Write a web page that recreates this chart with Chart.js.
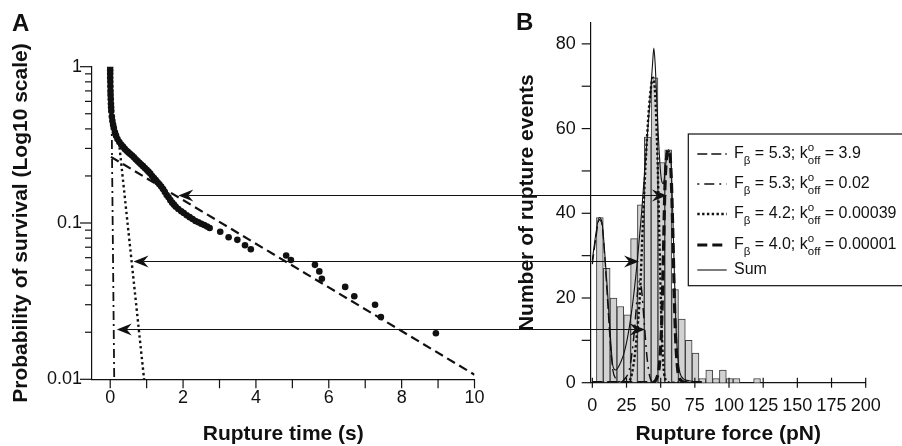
<!DOCTYPE html>
<html>
<head>
<meta charset="utf-8">
<title>Rupture time / rupture force</title>
<script src="https://cdn.jsdelivr.net/npm/chart.js@4.4.1/dist/chart.umd.min.js"></script>
<style>
  html, body { margin: 0; padding: 0; background: #fff; }
  #wrap { position: relative; width: 902px; height: 446px; overflow: hidden; }
  #wrap canvas { position: absolute; top: 0; }
  #chartA { left: 0; }
  #chartB { left: 460px; }
  #arrows { left: 0; pointer-events: none; }
  .panel-label { position: absolute; font: bold 24px 'Liberation Sans', Arial, sans-serif; line-height: 24px; color: #111; }
</style>
</head>
<body>
<div id="wrap">
  <canvas id="chartA" width="520" height="446"></canvas>
  <canvas id="chartB" width="442" height="446"></canvas>
  <canvas id="arrows" width="902" height="446"></canvas>
  <div class="panel-label" style="left:12px; top:11px;">A</div>
  <div class="panel-label" style="left:516px; top:10px;">B</div>
</div>
<script>
const FONT = "'Liberation Sans', Arial, Helvetica, sans-serif";
const INK = '#111';

// ---------------- Panel A: survival vs rupture time ----------------
const surviveTime = [0, 0, 0, 0, 0.003, 0.005, 0.008, 0.01, 0.015, 0.02, 0.025, 0.03, 0.045, 0.06, 0.08, 0.1,
  0.13, 0.16, 0.2, 0.25, 0.3, 0.35, 0.4, 0.45, 0.5, 0.55, 0.6, 0.65, 0.7, 0.75, 0.8, 0.85, 0.9, 0.95, 1.0,
  1.05, 1.1, 1.15, 1.2, 1.25, 1.3, 1.35, 1.4, 1.45, 1.5, 1.55, 1.6, 1.65, 1.7, 1.75, 1.8, 1.87, 1.95, 2.02,
  2.1, 2.18, 2.26, 2.34, 2.42, 2.5, 2.58, 2.66, 2.73,
  3.02, 3.25, 3.49, 3.7, 3.86, 4.83, 4.96, 5.62, 5.74, 5.81, 6.45, 6.7, 7.27, 7.43, 8.94];
const surviveProb = [1, 0.95, 0.9, 0.85, 0.8, 0.75, 0.7, 0.66, 0.62, 0.58, 0.55, 0.52, 0.48, 0.45, 0.425, 0.405,
  0.38, 0.362, 0.345, 0.33, 0.318, 0.308, 0.298, 0.29, 0.283, 0.276, 0.27, 0.263, 0.256, 0.249, 0.243, 0.237,
  0.231, 0.225, 0.219, 0.213, 0.207, 0.2, 0.194, 0.188, 0.182, 0.177, 0.171, 0.165, 0.158, 0.151, 0.146, 0.14,
  0.135, 0.131, 0.127, 0.123, 0.119, 0.116, 0.112, 0.109, 0.106, 0.103, 0.101, 0.099, 0.097, 0.095, 0.093,
  0.088, 0.081, 0.078, 0.072, 0.068, 0.062, 0.058, 0.054, 0.049, 0.044, 0.039, 0.034, 0.030, 0.025, 0.0197];

const slowFitTime = [0.02, 10];
const slowFitProb = [0.265, 0.0107];
const midFitTime = [0.24, 0.93];
const midFitProb = [0.33, 0.01];
const fastFitTime = [0.04, 0.11];
const fastFitProb = [0.45, 0.01];

const timeTicks = [0, 1, 2, 3, 4, 5, 6, 7, 8, 9, 10];
const timeLabels = [0, 2, 4, 6, 8, 10];
const probTicks = [0.01, 0.02, 0.03, 0.04, 0.05, 0.06, 0.07, 0.08, 0.09,
  0.1, 0.2, 0.3, 0.4, 0.5, 0.6, 0.7, 0.8, 0.9, 1];
const probLabels = [0.01, 0.1, 1];

// ---------------- Panel B: rupture force histogram + fits ----------------
const forceBins = [5.5, 10.5, 15.5, 20.5, 25.5, 30.5, 35.5, 40.5, 45.5, 50.5, 55.5, 60.5, 65.5,
  70.5, 75.5, 80.5, 85.5, 90.5, 95.5, 100.5, 105.5, 120.5];
const forceCounts = [39, 27, 20, 18, 16, 34, 42, 58, 72, 52, 55, 22, 15, 10, 7, 1, 3, 1, 3, 1, 1, 1];

const fit1Force = [0, 2.5, 5, 7, 9, 11, 13, 15, 17, 20, 25, 80];
const fit1Count = [28, 34, 38.5, 37.5, 30, 20, 10, 3, 1, 0.2, 0, 0];
const fit2Force = [0, 20, 24, 27, 29, 31, 33, 34.5, 36, 38, 40, 42, 45, 80];
const fit2Count = [0, 0, 1, 3, 7, 13, 21, 24, 22, 14, 6, 1.5, 0, 0];
const fit3Force = [0, 25, 28, 30, 32.5, 35, 37, 39, 41, 43, 44.5, 46, 47.5, 49, 50.5, 52, 54, 57, 80];
const fit3Count = [0, 0, 1, 4, 11, 22, 38, 52, 63, 70, 72, 68, 55, 35, 15, 4, 0.5, 0, 0];
const fit4Force = [0, 44, 47, 49, 50.5, 52, 53, 54, 55.5, 57, 58, 59, 60, 61, 62.5, 65, 70, 80];
const fit4Count = [0, 0, 1, 4, 12, 30, 45, 52, 55, 53, 46, 34, 20, 10, 3, 0.5, 0, 0];
const sumForce = [0, 2.5, 5, 7, 9, 11, 13, 15, 17, 21, 24, 27, 30, 33, 36, 39, 42, 44, 45, 46, 47.5, 49,
  50.5, 52, 53.5, 55.5, 57, 58, 59, 60, 61, 62.5, 65, 70, 80];
const sumCount = [29, 35, 39, 38, 31, 22, 12, 4, 3, 5, 8, 13, 20, 29, 40, 53, 66, 75, 79, 75, 64, 54,
  48, 47, 51, 55, 54, 49, 38, 26, 15, 6, 1.5, 0.5, 0];

const forceTicks = [0, 25, 50, 75, 100, 125, 150, 175, 200];
const countTicks = [0, 10, 20, 30, 40, 50, 60, 70, 80];
const countLabels = [0, 20, 40, 60, 80];
const legendF = ['5.3', '5.3', '4.2', '4.0'];
const legendK = ['3.9', '0.02', '0.00039', '0.00001'];

// arrows linking a survival level (panel A) to a force (panel B)
const arrowProb = [0.15, 0.057, 0.021];
const arrowTime = [1.87, 0.64, 0.18];
const arrowForce = [54.6, 34.2, 38.5];

const pts = (xs, ys) => xs.map((x, i) => ({ x, y: ys[i] }));

const STYLE = {
  fit1: { borderWidth: 1.3, borderDash: [10, 4] },
  fit2: { borderWidth: 1.5, borderDash: [2, 5, 10, 5] },
  fit3: { borderWidth: 2.4, borderDash: [2.4, 2.4] },
  fit4: { borderWidth: 3.2, borderDash: [10, 5] },
  sum: { borderWidth: 1.1, borderDash: [] }
};

Chart.defaults.font.family = FONT;
Chart.defaults.color = INK;
Chart.defaults.animation = false;

function fixSize(size) {
  return (scale) => {
    if (scale.isHorizontal()) scale.height = size; else scale.width = size;
    scale.paddingLeft = scale.paddingRight = scale.paddingTop = scale.paddingBottom = 0;
  };
}

function setTicks(values) {
  return (scale) => { scale.ticks = values.map(v => ({ value: v })); };
}

// tick marks drawn by hand so major/minor can have different lengths
function tickMarks(specs) {
  return {
    id: 'tickMarks',
    afterDraw(chart) {
      const ctx = chart.ctx;
      ctx.save();
      ctx.strokeStyle = INK;
      ctx.lineWidth = 1.2;
      Object.entries(specs).forEach(([id, s]) => {
        const scale = chart.scales[id];
        scale.ticks.forEach(t => {
          const p = scale.getPixelForValue(t.value);
          const len = s.majors.includes(t.value) ? s.major : s.minor;
          ctx.beginPath();
          if (scale.isHorizontal()) {
            ctx.moveTo(p, scale.top - s.inside);
            ctx.lineTo(p, scale.top + len);
          } else {
            ctx.moveTo(scale.right + s.inside, p);
            ctx.lineTo(scale.right - len, p);
          }
          ctx.stroke();
        });
      });
      ctx.restore();
    }
  };
}

function axis(extra) {
  return Object.assign({
    offset: false,
    grid: { display: false, drawTicks: false },
    border: { display: true, color: INK, width: 1.2 },
    ticks: { autoSkip: false, maxRotation: 0, color: INK, font: { size: 18 } },
  }, extra);
}

function lineSet(data, style) {
  return Object.assign({
    type: 'line', data, borderColor: INK, pointRadius: 0, fill: false,
    cubicInterpolationMode: 'monotone', order: 0
  }, style);
}

// ----- Panel A -----
const chartA = new Chart(document.getElementById('chartA'), {
  type: 'line',
  data: {
    datasets: [
      { data: pts(surviveTime, surviveProb), showLine: false, pointRadius: 3.3, pointBorderWidth: 0,
        pointBackgroundColor: INK, borderColor: INK },
      lineSet(pts(slowFitTime, slowFitProb), { borderWidth: 2.2, borderDash: [9, 5] }),
      lineSet(pts(midFitTime, midFitProb), { borderWidth: 2.4, borderDash: [2.4, 3] }),
      lineSet(pts(fastFitTime, fastFitProb), { borderWidth: 1.8, borderDash: [9, 4, 2, 4] })
    ]
  },
  options: {
    responsive: false,
    layout: { padding: { left: 0, top: 66.7, right: 45.5, bottom: 0 } },
    plugins: { legend: { display: false }, tooltip: { enabled: false } },
    scales: {
      x: axis({
        type: 'linear', min: -0.5, max: 10,
        afterBuildTicks: setTicks(timeTicks),
        afterFit: fixSize(66.7),
        ticks: { autoSkip: false, maxRotation: 0, color: INK, font: { size: 18 }, padding: 8,
          callback: v => timeLabels.includes(v) ? String(v) : '' },
        title: { display: true, text: 'Rupture time (s)', color: INK,
          font: { size: 21, weight: 'bold', lineHeight: 1 }, padding: { top: 0, bottom: 1 } }
      }),
      y: axis({
        type: 'logarithmic', min: 0.01, max: 1,
        afterBuildTicks: setTicks(probTicks),
        afterFit: fixSize(92),
        ticks: { autoSkip: false, color: INK, font: { size: 18 }, padding: 10,
          callback: v => probLabels.includes(v) ? String(v) : '' },
        title: { display: true, text: 'Probability of survival (Log10 scale)', color: INK,
          font: { size: 21, weight: 'bold', lineHeight: 1 }, padding: { top: 10.5, bottom: 0 } }
      })
    }
  },
  plugins: [tickMarks({
    x: { majors: timeTicks, major: 9, minor: 9, inside: 0 },
    y: { majors: probLabels, major: 12, minor: 7, inside: 0 }
  })]
});

// ----- Panel B legend (sub/superscripts need manual text runs) -----
const legendRows = legendF.map((f, i) => [
  { text: 'F' }, { text: 'β', script: 'sub' }, { text: ` = ${f}; k` },
  { text: 'o', script: 'sup', stack: true }, { text: 'off', script: 'sub' }, { text: ` = ${legendK[i]}` }
]).concat([[{ text: 'Sum' }]]);

function drawRuns(ctx, x, y, runs, size) {
  runs.forEach(r => {
    const s = r.script ? size * 0.72 : size;
    ctx.font = `${s}px ${FONT}`;
    const dy = r.script === 'sub' ? size * 0.42 : r.script === 'sup' ? -size * 0.4 : 0;
    ctx.fillText(r.text, x, y + dy);
    if (!r.stack) x += ctx.measureText(r.text).width;
  });
}

const fitLegend = {
  id: 'fitLegend',
  afterDraw(chart) {
    const ctx = chart.ctx;
    const left = chart.chartArea.left + 97.6;
    const top = 134;
    const rowY = [154, 184, 214, 245, 270];
    ctx.save();
    ctx.fillStyle = '#fff';
    ctx.fillRect(left, top, chart.width - left + 5, 151.7);
    ctx.strokeStyle = INK;
    ctx.lineWidth = 1.2;
    ctx.strokeRect(left, top, chart.width - left + 5, 151.7);
    ctx.fillStyle = INK;
    ctx.textBaseline = 'middle';
    legendRows.forEach((runs, i) => {
      const ds = chart.data.datasets[i];
      ctx.setLineDash(ds.borderDash || []);
      ctx.lineWidth = ds.borderWidth;
      ctx.beginPath();
      ctx.moveTo(left + 9, rowY[i]);
      ctx.lineTo(left + 38.4, rowY[i]);
      ctx.stroke();
      drawRuns(ctx, left + 45.7, rowY[i], runs, 16);
    });
    ctx.restore();
  }
};

// ----- Panel B -----
const chartB = new Chart(document.getElementById('chartB'), {
  type: 'line',
  data: {
    datasets: [
      lineSet(pts(fit1Force, fit1Count), STYLE.fit1),
      lineSet(pts(fit2Force, fit2Count), STYLE.fit2),
      lineSet(pts(fit3Force, fit3Count), STYLE.fit3),
      lineSet(pts(fit4Force, fit4Count), STYLE.fit4),
      lineSet(pts(sumForce, sumCount), STYLE.sum),
      { type: 'bar', data: pts(forceBins, forceCounts), order: 1,
        backgroundColor: '#d2d2d2', borderColor: '#3a3a3a', borderWidth: 1,
        barPercentage: 1, categoryPercentage: 1 }
    ]
  },
  options: {
    responsive: false,
    layout: { padding: { left: 0, top: 22.7, right: 36.3, bottom: 0 } },
    plugins: { legend: { display: false }, tooltip: { enabled: false } },
    scales: {
      x: axis({
        type: 'linear', min: -1.2, max: 200,
        afterBuildTicks: setTicks(forceTicks),
        afterFit: fixSize(63.3),
        ticks: { autoSkip: false, maxRotation: 0, color: INK, font: { size: 18 }, padding: 13 },
        title: { display: true, text: 'Rupture force (pN)', color: INK,
          font: { size: 21, weight: 'bold', lineHeight: 1 }, padding: { top: 0, bottom: 1 } }
      }),
      y: axis({
        type: 'linear', min: 0, max: 85,
        afterBuildTicks: setTicks(countTicks),
        afterFit: fixSize(130.7),
        ticks: { autoSkip: false, color: INK, font: { size: 18 }, padding: 15,
          callback: v => countLabels.includes(v) ? String(v) : '' },
        title: { display: true, text: 'Number of rupture events', color: INK,
          font: { size: 21, weight: 'bold', lineHeight: 1 }, padding: { top: 57.2, bottom: 0 } }
      })
    }
  },
  plugins: [tickMarks({
    x: { majors: forceTicks, major: 5, minor: 5, inside: 5 },
    y: { majors: countTicks, major: 9, minor: 9, inside: 0 }
  }), fitLegend]
});

// ----- Arrows across both panels -----
function arrowHead(ctx, x, y, dir) {
  ctx.beginPath();
  ctx.moveTo(x, y);
  ctx.lineTo(x - dir * 15, y - 6);
  ctx.lineTo(x - dir * 10, y);
  ctx.lineTo(x - dir * 15, y + 6);
  ctx.closePath();
  ctx.fill();
}

function drawArrows() {
  const ctx = document.getElementById('arrows').getContext('2d');
  const offB = chartB.canvas.offsetLeft;
  ctx.strokeStyle = INK;
  ctx.fillStyle = INK;
  ctx.lineWidth = 1.2;
  arrowProb.forEach((p, i) => {
    const y = Math.round(chartA.scales.y.getPixelForValue(p)) + 0.5;
    const x1 = chartA.scales.x.getPixelForValue(arrowTime[i]);
    const x2 = offB + chartB.scales.x.getPixelForValue(arrowForce[i]);
    ctx.beginPath();
    ctx.moveTo(x1 + 10, y);
    ctx.lineTo(x2 - 10, y);
    ctx.stroke();
    arrowHead(ctx, x1, y, -1);
    arrowHead(ctx, x2, y, 1);
  });
}

drawArrows();
</script>
</body>
</html>
